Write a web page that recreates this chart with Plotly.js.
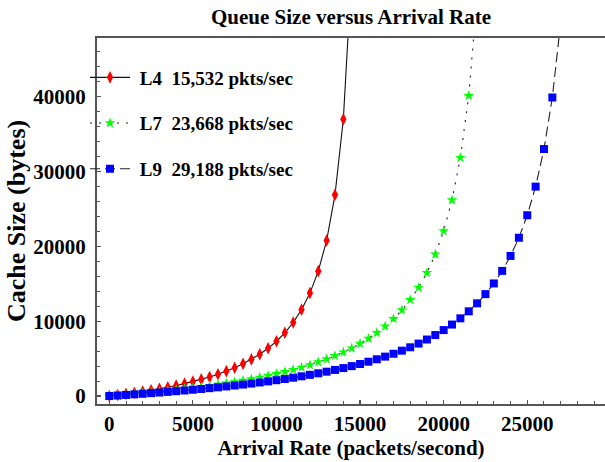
<!DOCTYPE html>
<html>
<head>
<meta charset="utf-8">
<script src="https://cdn.plot.ly/plotly-3.0.1.min.js"></script>
<style>html,body{margin:0;padding:0;background:#fff;}#chart{width:605px;height:462px;}</style>
</head>
<body>
<div id="chart"></div>
<script>
// Arrival rate (packets/second)
var arrivalL4 = [0,500,1000,1500,2000,2500,3000,3500,4000,4500,5000,5500,6000,6500,7000,7500,8000,8500,9000,9500,10000,10500,11000,11500,12000,12500,13000,13500,14000,14500];
var cacheL4 = [0,135,279,433,598,777,969,1178,1404,1651,1922,2219,2548,2913,3321,3780,4300,4893,5578,6375,7317,8447,9825,11546,13753,16689,20784,26894,36992,56876];

var arrivalL7 = [0,500,1000,1500,2000,2500,3000,3500,4000,4500,5000,5500,6000,6500,7000,7500,8000,8500,9000,9500,10000,10500,11000,11500,12000,12500,13000,13500,14000,14500,15000,15500,16000,16500,17000,17500,18000,18500,19000,19500,20000,20500,21000,21500,22000];
var cacheL7 = [0,87,179,274,374,478,588,703,823,950,1084,1226,1375,1533,1700,1878,2067,2269,2484,2714,2962,3228,3515,3826,4163,4531,4933,5375,5862,6402,7005,7682,8447,9318,10320,11485,12855,14491,16476,18939,22072,26195,31862,40144,53391];

var arrivalL9 = [0,500,1000,1500,2000,2500,3000,3500,4000,4500,5000,5500,6000,6500,7000,7500,8000,8500,9000,9500,10000,10500,11000,11500,12000,12500,13000,13500,14000,14500,15000,15500,16000,16500,17000,17500,18000,18500,19000,19500,20000,20500,21000,21500,22000,22500,23000,23500,24000,24500,25000,25500,26000,26500,27000];
var cacheL9 = [0,71,144,219,298,379,464,552,643,738,837,940,1047,1160,1277,1400,1528,1663,1805,1953,2110,2274,2448,2632,2826,3032,3251,3483,3731,3996,4280,4584,4911,5264,5646,6061,6513,7007,7549,8148,8812,9552,10382,11321,12390,13618,15046,16724,18726,21155,24164,27989,33014,39908,49952];

var seriesNames = ["L4\u00a0\u00a015,532 pkts/sec", "L7\u00a0\u00a023,668 pkts/sec", "L9\u00a0\u00a029,188 pkts/sec"];
var xTickVals = [0,5000,10000,15000,20000,25000];
var yTickVals = [0,10000,20000,30000,40000];

var FONT = "Liberation Serif, Times New Roman, serif";
var PAD = "\u00a0";

var traces = [
  {x: arrivalL4, y: cacheL4, name: PAD + seriesNames[0], legendgroup: "a", type: "scatter", mode: "lines+markers",
   line: {color: "#111", width: 1.1, dash: "solid"},
   marker: {symbol: "diamond-tall", size: 9, color: "#ff0000", line: {width: 0}}},
  {x: arrivalL7, y: cacheL7, name: PAD + seriesNames[1], legendgroup: "b", type: "scatter", mode: "lines+markers",
   line: {color: "#222", width: 1.1, dash: "2px,7px"},
   marker: {symbol: "star", size: 8, color: "#00ff00", line: {width: 0}}},
  {x: arrivalL9, y: cacheL9, name: PAD + seriesNames[2], legendgroup: "c", type: "scatter", mode: "lines+markers",
   line: {color: "#222", width: 1.1, dash: "10px,5px"},
   marker: {symbol: "square", size: 8, color: "#0000ff", line: {width: 0}}}
];

var layout = {
  width: 605, height: 462,
  margin: {l: 97, r: 0, t: 38, b: 58, pad: 0},
  paper_bgcolor: "#fff", plot_bgcolor: "#fff",
  font: {family: FONT, color: "#000"},
  title: {text: "<b>Queue Size versus Arrival Rate</b>", font: {family: FONT, size: 21, color: "#000"},
          x: 0.5, xref: "paper", xanchor: "center", y: 1 - 17/462, yref: "container", yanchor: "middle"},
  xaxis: {
    range: [-735, 29650], showgrid: false, zeroline: false,
    showline: true, linecolor: "#555", linewidth: 2, mirror: true,
    ticks: "inside", ticklen: 4, tickwidth: 1.2, tickcolor: "#555",
    tickvals: xTickVals, ticktext: xTickVals.map(String),
    tickfont: {family: FONT, size: 21, color: "#000", weight: "bold"},
    minor: {dtick: 1000, ticks: "inside", ticklen: 3, tickcolor: "#555", tickwidth: 1, showgrid: false},
    title: {text: "<b>Arrival Rate (packets/second)</b>", font: {family: FONT, size: 21, color: "#000"}, standoff: 1}
  },
  yaxis: {
    range: [-1070, 47860], showgrid: false, zeroline: false,
    showline: true, linecolor: "#555", linewidth: 2, mirror: false,
    ticks: "inside", ticklen: 4, tickwidth: 1.2, tickcolor: "#555",
    tickvals: yTickVals, ticktext: yTickVals.map(String),
    tickfont: {family: FONT, size: 21, color: "#000", weight: "bold"},
    ticklabelstandoff: 5,
    minor: {dtick: 2000, ticks: "inside", ticklen: 3, tickcolor: "#555", tickwidth: 1, showgrid: false}
  },
  annotations: [{
    text: "<b>Cache Size (bytes)</b>", textangle: -90, showarrow: false,
    xref: "paper", yref: "paper", x: (16 - 97) / 508, y: (404 - 221) / 366,
    xanchor: "center", yanchor: "middle",
    font: {family: FONT, size: 26, color: "#000"}
  }],
  showlegend: true,
  legend: {x: -0.0236, xanchor: "left", y: 0.944, yanchor: "top", bgcolor: "rgba(0,0,0,0)",
           borderwidth: 0, font: {family: FONT, size: 19, color: "#000", weight: "bold"},
           tracegroupgap: 18, itemwidth: 40, traceorder: "grouped"}
};

Plotly.newPlot("chart", traces, layout, {displayModeBar: false, staticPlot: true});
</script>
</body>
</html>
